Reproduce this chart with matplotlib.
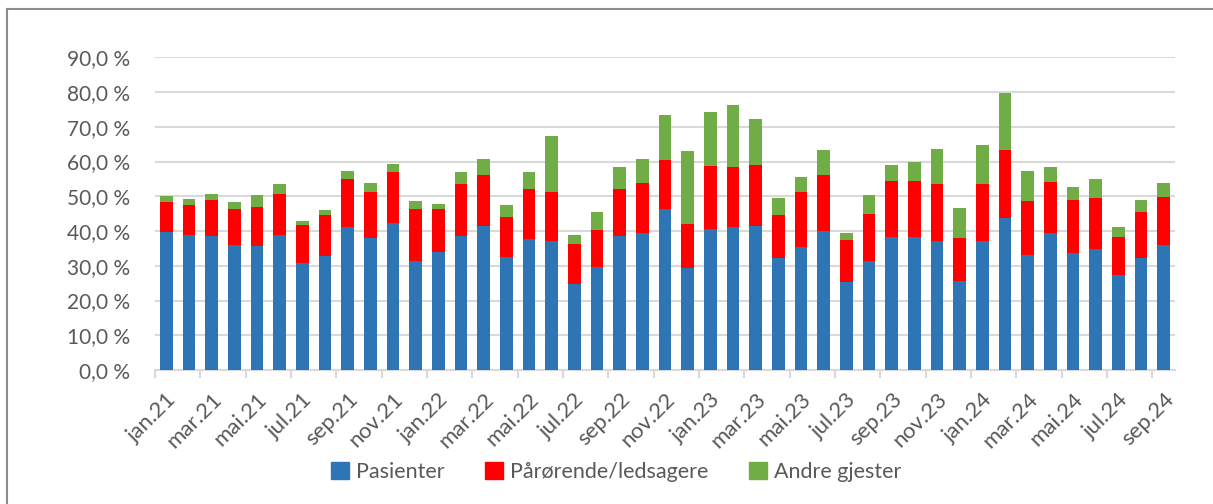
import matplotlib.pyplot as plt
import numpy as np
from matplotlib.patches import Patch
from matplotlib.ticker import FuncFormatter, FixedLocator

plt.rcParams['font.family'] = ['Lato', 'DejaVu Sans']

# månedlige kategorier
months = ["jan", "feb", "mar", "apr", "mai", "jun",
          "jul", "aug", "sep", "okt", "nov", "des"]
labels = [f"{m}.{y}" for y in (21, 22, 23) for m in months] + \
         [f"{m}.24" for m in months[:9]]

# kumulative nivåer (%) for hver serie
pasienter = [39.7, 38.8, 38.5, 35.9, 35.6, 38.8, 30.9, 32.8, 41.1, 38.0, 42.4, 31.4,
             33.9, 38.5, 41.4, 32.5, 37.8, 37.0, 24.8, 29.7, 38.7, 39.5, 46.3, 29.3,
             40.6, 41.1, 41.5, 32.2, 35.5, 39.9, 25.3, 31.3, 38.2, 38.3, 37.0, 25.5,
             37.0, 43.7, 33.2, 39.3, 33.6, 34.9, 27.4, 32.1, 36.0]
topp_parorende = [48.4, 47.5, 48.9, 46.2, 46.9, 50.7, 41.7, 44.7, 55.1, 51.1, 57.1, 46.4,
                  46.2, 53.6, 56.1, 44.0, 52.2, 51.3, 36.4, 40.4, 52.2, 53.9, 60.3, 42.1,
                  58.7, 58.4, 58.9, 44.7, 51.2, 56.0, 37.4, 45.0, 54.3, 54.4, 53.4, 37.9,
                  53.4, 63.3, 48.5, 54.2, 48.9, 49.6, 38.4, 45.6, 49.9]
topp_andre = [50.1, 49.2, 50.6, 48.3, 50.4, 53.6, 42.9, 46.0, 57.4, 53.9, 59.4, 48.7,
              47.7, 56.9, 60.7, 47.5, 57.0, 67.3, 38.9, 45.5, 58.5, 60.7, 73.5, 63.1,
              74.4, 76.3, 72.2, 49.5, 55.5, 63.3, 39.5, 50.4, 58.9, 59.8, 63.5, 46.7,
              64.9, 79.7, 57.4, 58.4, 52.7, 55.0, 41.1, 48.8, 53.9]

pas = np.array(pasienter)
par = np.array(topp_parorende) - pas
andre = np.array(topp_andre) - np.array(topp_parorende)

c_blue, c_red, c_green = "#2E75B6", "#FF0000", "#70AD47"
grid_c = "#D9D9D9"
text_c = "#595959"

fig = plt.figure(figsize=(12.13, 5.04), dpi=100)
ax = fig.add_axes([155 / 1213, 1 - 370 / 504, (1175 - 155) / 1213, (370 - 57.3) / 504])

x = np.arange(len(labels))
w = 0.55
ax.bar(x, pas, w, color=c_blue, zorder=3)
ax.bar(x, par, w, bottom=pas, color=c_red, zorder=3)
ax.bar(x, andre, w, bottom=pas + par, color=c_green, zorder=3)

ax.set_xlim(-0.5, len(labels) - 0.5)
ax.set_ylim(0, 90)
ax.set_yticks(np.arange(0, 91, 10))
ax.yaxis.set_major_formatter(FuncFormatter(lambda v, p: f"{v:.1f} %".replace(".", ",")))
ax.grid(axis="y", color=grid_c, linewidth=1.5, zorder=0)
ax.tick_params(axis="y", length=0, pad=18, labelsize=15, labelcolor=text_c)

# tick-streker mellom annenhver kategori, etiketter på annenhver kategori
ax.xaxis.set_major_locator(FixedLocator(np.arange(-0.5, len(labels) - 1, 2)))
ax.xaxis.set_major_formatter(FuncFormatter(lambda v, p: ""))
ax.xaxis.set_minor_locator(FixedLocator(x[::2]))
ax.set_xticklabels(labels[::2], minor=True)
ax.tick_params(axis="x", which="major", length=6, width=1.5, color=grid_c)
ax.tick_params(axis="x", which="minor", length=0, pad=14, labelsize=16, labelcolor=text_c)
for t in ax.get_xticklabels(minor=True):
    t.set_rotation(45)
    t.set_ha("right")
    t.set_va("top")
    t.set_rotation_mode("anchor")

for s in ("top", "right", "left"):
    ax.spines[s].set_visible(False)
ax.spines["bottom"].set_color(grid_c)
ax.spines["bottom"].set_linewidth(1.5)

handles = [Patch(color=c_blue, label="Pasienter"),
           Patch(color=c_red, label="Pårørende/ledsagere"),
           Patch(color=c_green, label="Andre gjester")]
leg = fig.legend(handles=handles, loc="center", bbox_to_anchor=(616 / 1213, 1 - 472 / 504),
                 ncol=3, frameon=False, fontsize=15.5, handlelength=0.85, handleheight=0.85,
                 handletextpad=0.3, columnspacing=1.9)
for t in leg.get_texts():
    t.set_color(text_c)

# ytre ramme
fig.add_artist(plt.Line2D([7 / 1213, 7 / 1213], [0, 1 - 9 / 504], color="#8C8C8C",
                          linewidth=1.5, transform=fig.transFigure))
fig.add_artist(plt.Line2D([7 / 1213, 1], [1 - 9 / 504, 1 - 9 / 504], color="#8C8C8C",
                          linewidth=1.5, transform=fig.transFigure))

fig.savefig("out.png", dpi=100)
